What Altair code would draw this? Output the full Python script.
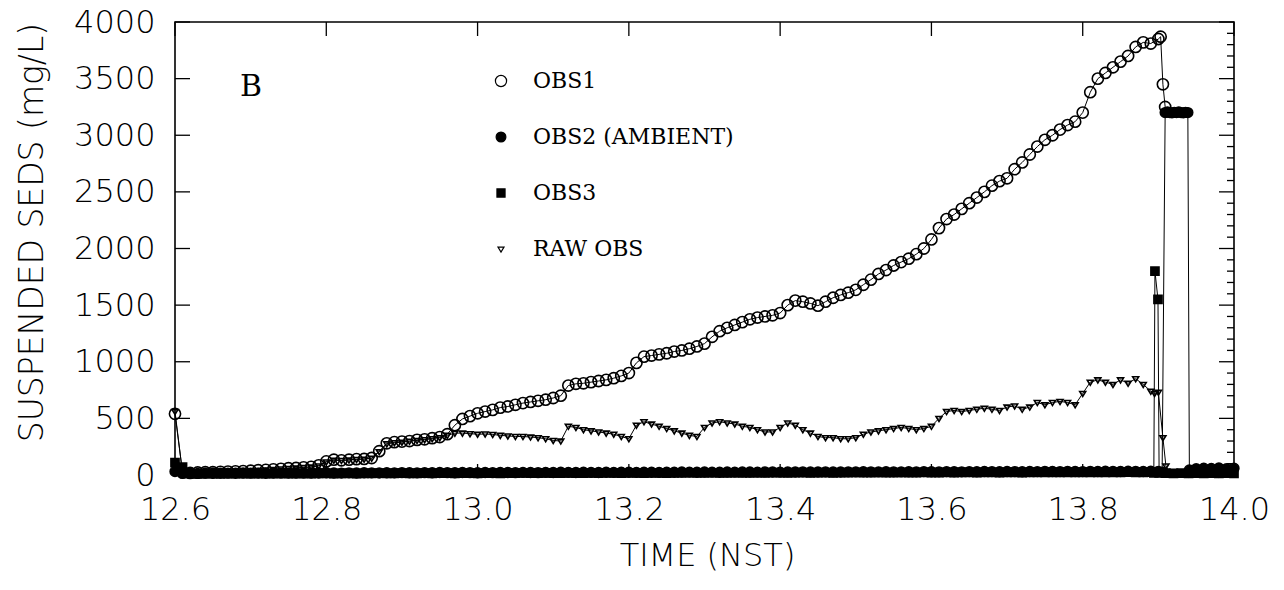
import altair as alt
import pandas as pd

# ---------------- data ----------------
# regular sampling 12.60 .. 13.90 h
grid_t = [round(12.60 + 0.01 * i, 2) for i in range(131)]

obs1_v = [540, 20, 18, 22, 25, 25, 28, 30, 32, 35,
          38, 42, 45, 50, 55, 60, 62, 68, 72, 85,
          120, 135, 130, 135, 140, 142, 150, 210, 280, 290,
          295, 300, 310, 315, 325, 335, 360, 440, 495, 520,
          545, 560, 575, 595, 605, 620, 635, 645, 655, 665,
          680, 700, 790, 805, 810, 820, 830, 840, 855, 875,
          900, 990, 1045, 1055, 1065, 1075, 1090, 1100, 1115, 1135,
          1160, 1220, 1270, 1300, 1325, 1350, 1375, 1390, 1400, 1410,
          1430, 1500, 1540, 1530, 1515, 1495, 1530, 1565, 1590, 1610,
          1635, 1680, 1725, 1775, 1810, 1850, 1880, 1910, 1950, 2000,
          2080, 2180, 2260, 2300, 2350, 2400, 2450, 2500, 2555, 2595,
          2620, 2700, 2760, 2830, 2900, 2960, 3000, 3050, 3090, 3120,
          3200, 3380, 3500, 3550, 3600, 3650, 3700, 3780, 3820, 3810,
          3850]
obs1_tail_t = [13.903, 13.906, 13.909]
obs1_tail_v = [3870, 3450, 3250]

raw_v = [560, 15, 16, 20, 23, 24, 27, 29, 31, 34,
         37, 40, 44, 48, 53, 58, 61, 66, 70, 80,
         115, 130, 128, 132, 137, 140, 148, 205, 275, 285,
         290, 298, 305, 312, 320, 330, 350, 370, 370, 365,
         360, 362, 358, 350, 345, 340, 340, 335, 330, 320,
         305, 300, 430, 420, 400, 390, 380, 370, 360, 340,
         320, 440, 470, 450, 430, 410, 390, 370, 350, 340,
         420, 460, 470, 460, 450, 430, 420, 400, 380, 380,
         420, 460, 440, 400, 370, 340, 330, 330, 320, 320,
         330, 360, 380, 390, 400, 410, 420, 410, 400, 410,
         430, 500, 560, 570, 560, 570, 580, 590, 580, 570,
         600, 610, 580, 600, 640, 620, 640, 650, 640, 620,
         720, 820, 840, 820, 800, 840, 810, 850, 800, 740]
raw_tail_t = [13.895, 13.90, 13.906, 13.91, 13.915, 13.92, 13.93, 13.94,
              13.95, 13.96, 13.97, 13.98, 13.99, 14.00]
raw_tail_v = [720, 730, 330, 80, 20, 15, 15, 12, 15, 14, 15, 12, 14, 15]

obs2_v = [30, 18, 15, 14, 16, 15, 17, 16, 15, 18,
          16, 17, 15, 18, 16, 17, 18, 16, 17, 18,
          20, 18, 17, 19, 18, 20, 19, 18, 20, 19,
          21, 20, 19, 21, 20, 22, 21, 20, 22, 21,
          20, 22, 21, 23, 22, 21, 23, 22, 21, 23,
          22, 24, 23, 22, 24, 23, 22, 24, 23, 25,
          24, 23, 25, 24, 23, 25, 24, 26, 25, 24,
          26, 25, 24, 26, 25, 27, 26, 25, 27, 26,
          25, 27, 26, 28, 27, 26, 28, 27, 26, 28,
          27, 29, 28, 27, 29, 28, 27, 29, 28, 30,
          29, 28, 30, 29, 28, 30, 29, 31, 30, 29,
          31, 30, 29, 31, 30, 32, 31, 30, 32, 31,
          30, 32, 31, 33, 32, 31, 33, 32, 31, 33,
          32]
obs2_tail_t = [13.905, 13.909, 13.912, 13.915, 13.918, 13.921, 13.924, 13.927,
               13.930, 13.933, 13.936, 13.939, 13.941, 13.95, 13.96, 13.97,
               13.98, 13.99, 14.00]
obs2_tail_v = [25, 3200, 3205, 3200, 3198, 3202, 3200, 3205, 3200, 3198, 3202,
               3200, 45, 55, 60, 58, 62, 55, 60]

obs3_v = [110, 70, 12, 10, 11, 12, 10, 12, 11, 13,
          12, 11, 13, 12, 14, 13, 12, 14, 13, 15,
          14, 13, 15, 14, 13, 15, 14, 16, 15, 14,
          16, 15, 14, 16, 15, 17, 16, 15, 17, 16,
          15, 17, 16, 15, 17, 16, 18, 17, 16, 18,
          17, 16, 18, 17, 16, 18, 17, 19, 18, 17,
          19, 18, 17, 19, 18, 17, 19, 18, 20, 19,
          18, 20, 19, 18, 20, 19, 18, 20, 19, 21,
          20, 19, 21, 20, 19, 21, 20, 19, 21, 20,
          22, 21, 20, 22, 21, 20, 22, 21, 20, 22,
          21, 20, 22, 21, 23, 22, 21, 23, 22, 21,
          23, 22, 21, 23, 22, 24, 23, 22, 24, 23,
          22, 24, 23, 22, 24, 23, 25, 24, 23, 25]
obs3_tail_t = [13.894, 13.8955, 13.8995, 13.901, 13.91, 13.92, 13.93, 13.94,
               13.95, 13.96, 13.97, 13.98, 13.99, 14.00]
obs3_tail_v = [18, 1800, 1550, 18, 16, 15, 16, 15, 16, 15, 16, 15, 16, 15]

series_names = ["OBS1", "OBS2 (AMBIENT)", "OBS3", "RAW OBS"]
series_shapes = ["circle", "circle", "square", "M-1,-0.65L1,-0.65L0,1Z"]
series_fills = ["transparent", "black", "black", "transparent"]
series_strokes = ["black", "black", "black", "black"]
series_sizes = [125, 36, 34, 140]

x_major = [12.6, 12.8, 13.0, 13.2, 13.4, 13.6, 13.8, 14.0]
y_major = [0, 500, 1000, 1500, 2000, 2500, 3000, 3500, 4000]
y_minor = [v for v in range(100, 4000, 100) if v % 500 != 0]

panel_label = ["B"]
panel_t = [12.7006]
panel_v = [3430]

# ---------------- build table ----------------
rows = []
def add(name, ts, vs):
    for i, (t, v) in enumerate(zip(ts, vs)):
        rows.append({"series": name, "t": t, "v": v, "ord": i})

add("OBS1", grid_t + obs1_tail_t, obs1_v + obs1_tail_v)
add("OBS2 (AMBIENT)", grid_t + obs2_tail_t, obs2_v + obs2_tail_v)
add("OBS3", grid_t[:130] + obs3_tail_t, obs3_v + obs3_tail_v)
add("RAW OBS", grid_t[:130] + raw_tail_t, raw_v + raw_tail_v)
df = pd.DataFrame(rows)

W, H = 1059, 453
xs = alt.Scale(domain=[12.6, 14.0], nice=False, zero=False, padding=0)
ys = alt.Scale(domain=[0, 4000], nice=False, padding=0)

AXFONT = "DejaVu Sans Light, DejaVu Sans"

x_axis = alt.Axis(title="TIME (NST)", values=x_major, format=".1f",
                  domain=False, ticks=False, grid=False, labelFlush=False,
                  labelFont=AXFONT, labelFontSize=32, labelFontWeight=200,
                  labelColor="black", labelPadding=19,
                  titleFont=AXFONT, titleFontSize=32, titleFontWeight=200,
                  titleColor="black", titleX=532, titleY=80,
                  titleBaseline="middle")
y_axis = alt.Axis(title="SUSPENDED SEDS (mg/L)", values=y_major, format="d",
                  domain=False, ticks=False, grid=False, labelFlush=False,
                  labelFont=AXFONT, labelFontSize=32, labelFontWeight=200,
                  labelColor="black", labelPadding=20,
                  titleFont=AXFONT, titleFontSize=33, titleFontWeight=200,
                  titleColor="black", titleX=-143, titleY=210,
                  titleBaseline="middle", titleAngle=270)

def X(f):
    return alt.X(f, scale=xs, axis=x_axis)

def Y(f):
    return alt.Y(f, scale=ys, axis=y_axis)

leg = alt.Legend(title=None, orient="none", legendX=315, legendY=48,
                 direction="vertical", labelFont="DejaVu Serif", labelFontSize=22,
                 labelColor="black", labelOffset=21, rowPadding=34, padding=0,
                 labelLimit=0, symbolStrokeWidth=1.2)

lines = alt.Chart(df).mark_line(color="black", strokeWidth=1.0).encode(
    x=X("t:Q"), y=Y("v:Q"), detail="series:N", order="ord:Q")

points = alt.Chart(df).mark_point(strokeWidth=1.6, opacity=1).encode(
    x=X("t:Q"), y=Y("v:Q"),
    shape=alt.Shape("series:N", scale=alt.Scale(domain=series_names, range=series_shapes), legend=leg),
    fill=alt.Fill("series:N", scale=alt.Scale(domain=series_names, range=series_fills), legend=leg),
    stroke=alt.Stroke("series:N", scale=alt.Scale(domain=series_names, range=series_strokes), legend=leg),
    size=alt.Size("series:N", scale=alt.Scale(domain=series_names, range=series_sizes), legend=leg),
    order="ord:Q",
)

def tick_layer(vals, ch, a, b):
    d = pd.DataFrame({"tv": vals})
    if ch == "y":
        return alt.Chart(d).mark_rule(color="black", strokeWidth=1.3).encode(
            y=Y("tv:Q"), x=alt.value(a), x2=alt.value(b))
    return alt.Chart(d).mark_rule(color="black", strokeWidth=1.3).encode(
        x=X("tv:Q"), y=alt.value(a), y2=alt.value(b))

ticks = [
    tick_layer(y_major, "y", 0, 15),
    tick_layer(y_major, "y", W - 15, W),
    tick_layer(y_minor, "y", W - 7, W),
    tick_layer(x_major, "x", H, H - 11),
    tick_layer(x_major, "x", 0, 14),
]

label = alt.Chart(pd.DataFrame({"lab": panel_label, "t": panel_t, "v": panel_v})).mark_text(
    font="DejaVu Serif", fontSize=30, color="black", align="center", baseline="middle"
).encode(x=X("t:Q"), y=Y("v:Q"), text="lab:N")

chart = alt.layer(lines, points, label, *ticks).properties(
    width=W, height=H,
    autosize=alt.AutoSizeParams(type="none"),
    padding={"left": 175, "top": 22, "right": 50, "bottom": 115},
    background="white",
).configure_view(stroke="black", strokeWidth=1.6)

chart.save("out.html", embed_options={"renderer": "svg", "actions": False})
